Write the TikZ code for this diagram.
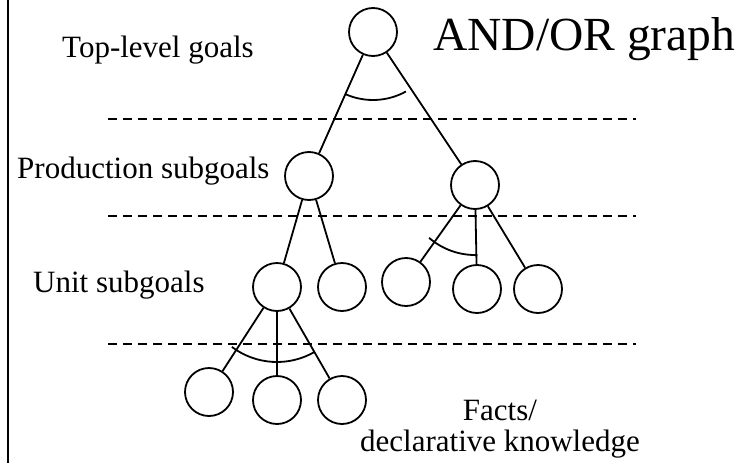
\documentclass[tikz,border=0pt]{standalone}
\usepackage{fontspec}
\setmainfont{Liberation Serif}
\usetikzlibrary{calc}

\begin{document}
\begin{tikzpicture}[x=1pt,y=-1pt,
    goal/.style={draw, circle, line width=1.8pt, minimum size=48pt, inner sep=0pt},
    link/.style={line width=1.8pt},
    levelline/.style={line width=1.8pt, dash pattern=on 9pt off 6pt},
    lbl/.style={font=\fontsize{31}{31}\selectfont, inner sep=0pt, anchor=base west}]
  \useasboundingbox (0,0) rectangle (749,463);
  \draw[line width=1.8pt] (8,0) -- (8,463);
  \foreach \y in {119,216,344}
    \draw[levelline] (108,\y) -- (636,\y);

  \node[goal] (top) at (373,32) {};
  \node[goal] (pl) at (309,176) {};
  \node[goal] (pr) at (475,185) {};
  \node[goal] (ul) at (277,287) {};
  \node[goal] (ur) at (342,287) {};
  \node[goal] (ra) at (406,282) {};
  \node[goal] (rb) at (477,289) {};
  \node[goal] (rc) at (538,289) {};
  \node[goal] (fa) at (209,392) {};
  \node[goal] (fb) at (277,400) {};
  \node[goal] (fc) at (342,400) {};

  \foreach \c in {pl,pr}
    \draw[link] (top) -- (\c);
  \foreach \c in {ul,ur}
    \draw[link] (pl) -- (\c);
  \foreach \c in {ra,rb,rc}
    \draw[link] (pr) -- (\c);
  \foreach \c in {fa,fb,fc}
    \draw[link] (ul) -- (\c);

  % AND arcs
  \draw[link] ($(top.center)+(61:68)$) arc[start angle=61, end angle=114, radius=68];
  \draw[link] ($(pr.center)+(88:70)$) arc[start angle=88, end angle=131, radius=70];
  \draw[link] ($(ul.center)+(60:75)$) arc[start angle=60, end angle=127, radius=75];

  \node[lbl] (toplbl) at (62,57) {Top-level goals};
  \node[lbl] (prodlbl) at (17,178) {Production subgoals};
  \node[lbl] (unitlbl) at (33,292) {Unit subgoals};
  \node[lbl, font=\fontsize{47.5}{48}\selectfont] (title) at (433,50) {AND/OR graph};
  \node[font=\fontsize{31}{31}\selectfont, align=center, inner sep=0pt, anchor=base] (facts) at (500,451) {Facts/\\declarative knowledge};
\end{tikzpicture}
\end{document}
